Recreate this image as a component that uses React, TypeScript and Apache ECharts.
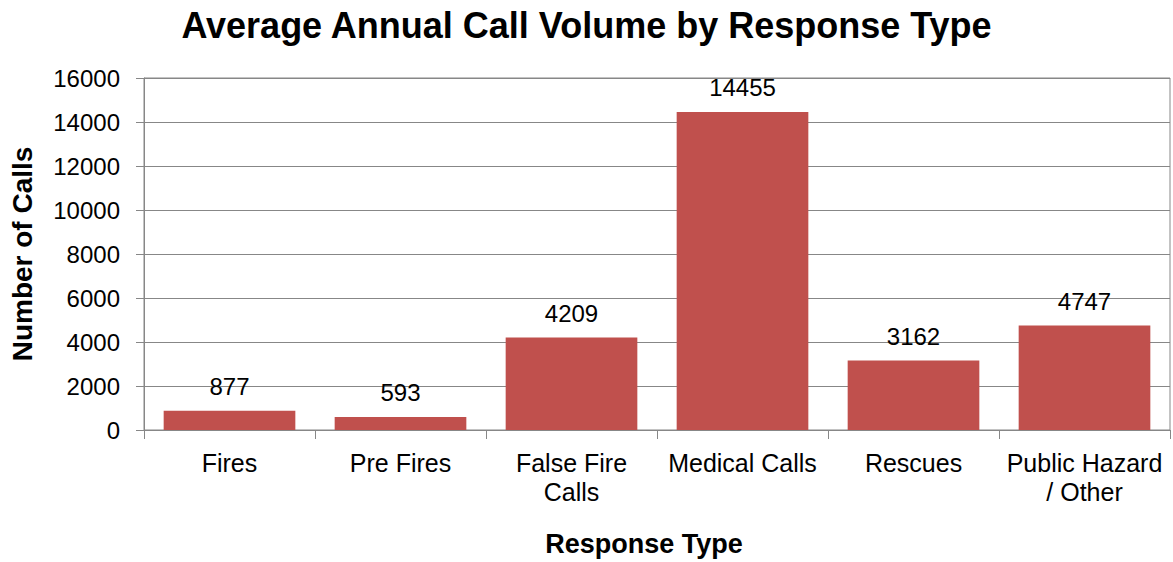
import React, { useEffect, useRef } from "react";
import * as echarts from "echarts";

const categories = ["Fires", "Pre Fires", "False Fire\nCalls", "Medical Calls", "Rescues", "Public Hazard\n/ Other"];
const callVolumes = [877, 593, 4209, 14455, 3162, 4747];
const yTicks = { min: 0, max: 16000, interval: 2000 };

const FONT = "'Liberation Sans', Arial, sans-serif";

export default function App() {
  const ref = useRef<HTMLDivElement>(null);
  useEffect(() => {
    if (!ref.current) return;
    const chart = echarts.init(ref.current, undefined, { renderer: "svg" });
    chart.setOption({
      animation: false,
      backgroundColor: "#ffffff",
      textStyle: { fontFamily: FONT },
      title: {
        text: "Average Annual Call Volume by Response Type",
        left: "center",
        top: 2,
        padding: [5, 8, 5, 0],
        textStyle: { fontFamily: FONT, fontSize: 36, fontWeight: "bold", color: "#000" },
      },
      grid: {
        left: 144,
        right: 3,
        top: 78,
        bottom: 132,
        show: true,
        borderColor: "#878787",
        borderWidth: 1,
      },
      xAxis: {
        type: "category",
        data: categories,
        name: "Response Type",
        nameLocation: "middle",
        nameGap: 100,
        nameTextStyle: { fontFamily: FONT, fontSize: 27, fontWeight: "bold", color: "#000", padding: [0, 26, 0, 0] },
        axisLine: { lineStyle: { color: "#878787", width: 1 } },
        axisTick: { show: true, length: 9, lineStyle: { color: "#878787" } },
        axisLabel: { fontFamily: FONT, fontSize: 25, color: "#000", margin: 18, lineHeight: 29, interval: 0 },
      },
      yAxis: {
        type: "value",
        min: yTicks.min,
        max: yTicks.max,
        interval: yTicks.interval,
        name: "Number of Calls",
        nameLocation: "middle",
        nameGap: 108,
        nameTextStyle: { fontFamily: FONT, fontSize: 28, fontWeight: "bold", color: "#000" },
        axisLine: { show: true, lineStyle: { color: "#878787", width: 1 } },
        axisTick: { show: true, length: 8, lineStyle: { color: "#878787" } },
        axisLabel: { fontFamily: FONT, fontSize: 24, color: "#000", margin: 24, formatter: (v: number) => String(v) },
        splitLine: { lineStyle: { color: "#878787", width: 1 } },
      },
      series: [
        {
          type: "bar",
          data: callVolumes,
          barCategoryGap: "23%",
          itemStyle: { color: "#C0504D" },
          label: {
            show: true,
            position: "top",
            distance: 12,
            fontFamily: FONT,
            fontSize: 24,
            color: "#000",
          },
        },
      ],
    });
    return () => chart.dispose();
  }, []);
  return <div ref={ref} style={{ width: 1173, height: 562, position: "absolute", left: 0, top: 0 }} />;
}
